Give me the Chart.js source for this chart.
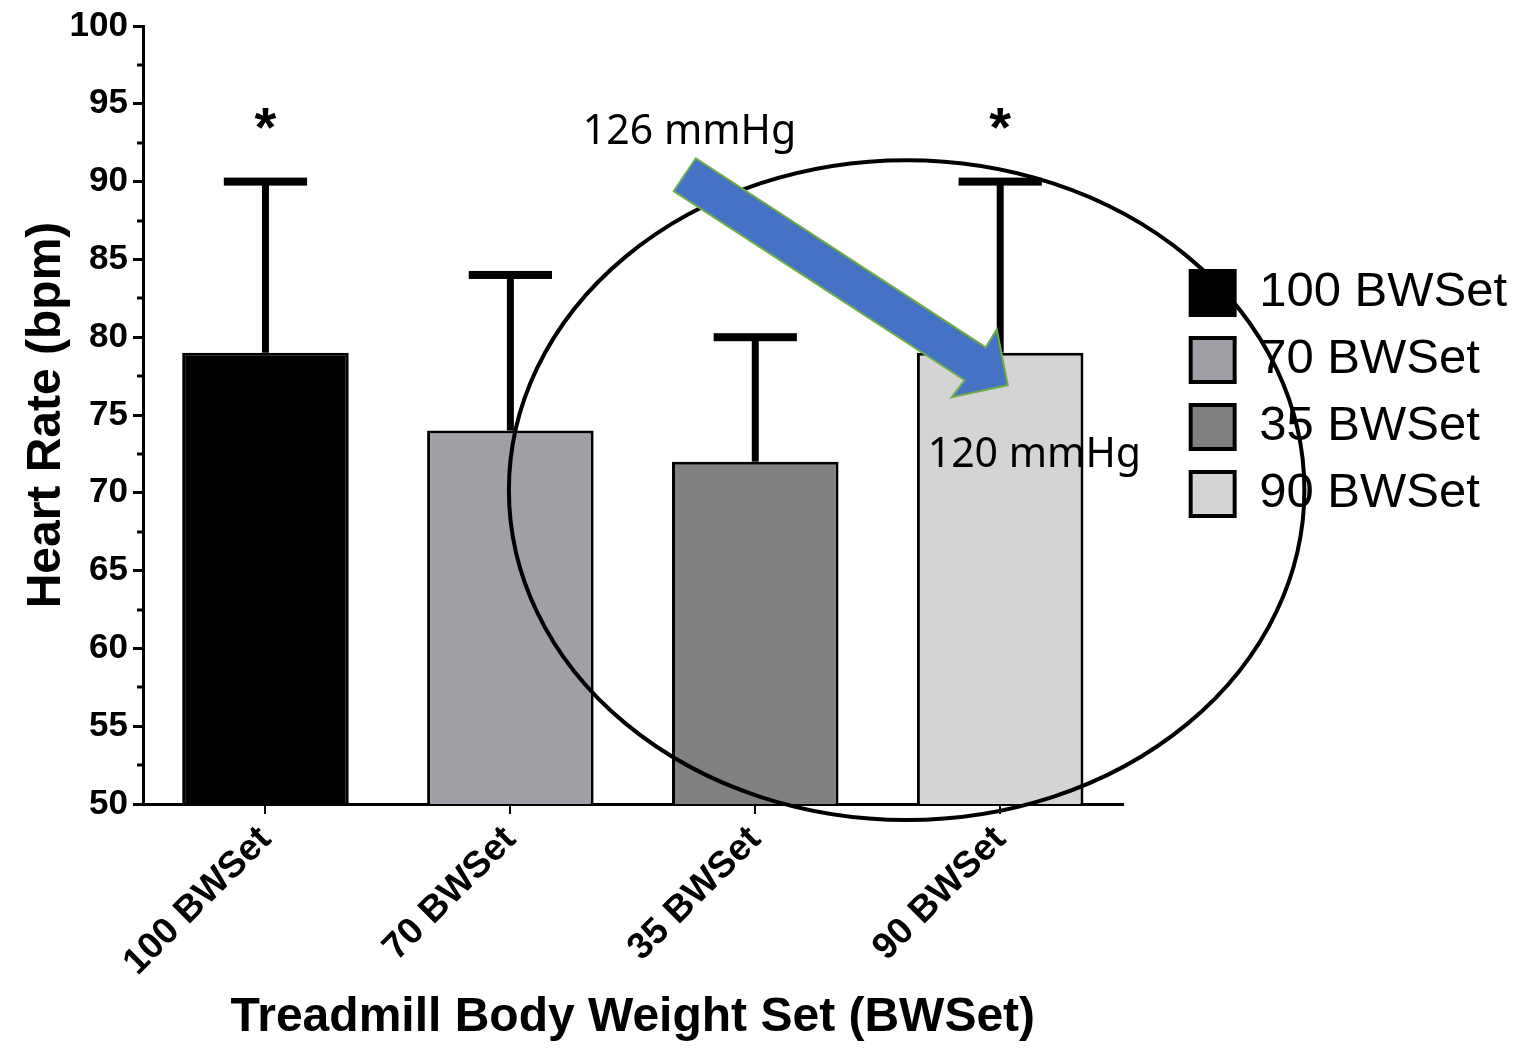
<!DOCTYPE html>
<html>
<head>
<meta charset="utf-8">
<style>
  html, body { margin: 0; padding: 0; background: #fff; }
  #wrap { width: 1517px; height: 1049px; }
</style>
</head>
<body>
<div id="wrap"><canvas id="c" width="1517" height="1049"></canvas></div>
<script src="https://cdn.jsdelivr.net/npm/chart.js@4.4.3/dist/chart.umd.min.js"></script>
<script>
const categories = ['100 BWSet', '70 BWSet', '35 BWSet', '90 BWSet'];
const heartRate = [79, 74, 72, 79];
const heartRateSD = [11, 10, 8, 11];
const significant = [true, false, false, true];
const yMin = 50;
const yMax = 100;
const yStep = 5;

const barColors = ['#000000', '#a09fa5', '#808080', '#d4d4d4'];
const AR = "'Liberation Sans', Arial, sans-serif";

// annotation overlay, placed in axis units (category index, bpm)
const ellipseCenter = [2.618, 70.17];
const ellipseRadius = [1.624, 21.2];
const arrowPoints = [
  [1.757, 91.50], [2.941, 79.35], [2.986, 80.50], [3.031, 76.92],
  [2.802, 76.15], [2.855, 77.24], [1.667, 89.39]
];
const notes = [
  { text: '126 mmHg', at: [1.296, 92.4] },
  { text: '120 mmHg', at: [2.704, 71.67] }
];

const errorBars = {
  id: 'errorBars',
  afterDatasetsDraw(chart) {
    const { ctx, scales: { y } } = chart;
    const meta = chart.getDatasetMeta(0);
    ctx.save();
    ctx.fillStyle = '#000';
    meta.data.forEach((bar, i) => {
      const top = y.getPixelForValue(heartRate[i] + heartRateSD[i]);
      const base = bar.y;
      const capW = bar.width * 0.5;
      ctx.fillRect(bar.x - 3.5, top, 7, base - top);
      ctx.fillRect(bar.x - capW / 2, top - 4, capW, 8);
      if (significant[i]) {
        ctx.font = 'bold 56px ' + AR;
        ctx.textAlign = 'center';
        ctx.textBaseline = 'alphabetic';
        const m = ctx.measureText('*');
        const h = m.actualBoundingBoxAscent + m.actualBoundingBoxDescent;
        // glyph centre ~63px above the cap
        const cy = top - 63;
        ctx.fillText('*', bar.x, cy + m.actualBoundingBoxAscent - h / 2);
      }
    });
    ctx.restore();
  }
};

const minorTicks = {
  id: 'minorTicks',
  afterDraw(chart) {
    const { ctx, scales: { y } } = chart;
    ctx.save();
    ctx.strokeStyle = '#000';
    ctx.lineWidth = 3;
    for (let v = yMin + yStep / 2; v < yMax; v += yStep) {
      const py = Math.round(y.getPixelForValue(v));
      ctx.beginPath();
      ctx.moveTo(y.right - 6, py);
      ctx.lineTo(y.right, py);
      ctx.stroke();
    }
    ctx.restore();
  }
};

const overlay = {
  id: 'overlay',
  afterDraw(chart) {
    const { ctx, scales: { x, y } } = chart;
    const px = (p) => [x.getPixelForValue(p[0]), y.getPixelForValue(p[1])];
    ctx.save();

    // ellipse
    const [cx, cy] = px(ellipseCenter);
    const rx = x.getPixelForValue(ellipseCenter[0] + ellipseRadius[0]) - cx;
    const ry = cy - y.getPixelForValue(ellipseCenter[1] + ellipseRadius[1]);
    ctx.beginPath();
    ctx.ellipse(cx, cy, rx, ry, 0, 0, Math.PI * 2);
    ctx.strokeStyle = '#000';
    ctx.lineWidth = 4;
    ctx.stroke();

    // arrow
    ctx.beginPath();
    arrowPoints.forEach((p, i) => {
      const [ax, ay] = px(p);
      if (i === 0) ctx.moveTo(ax, ay); else ctx.lineTo(ax, ay);
    });
    ctx.closePath();
    ctx.fillStyle = '#4472c4';
    ctx.fill();
    ctx.strokeStyle = '#70ad47';
    ctx.lineWidth = 2;
    ctx.stroke();

    // notes
    ctx.fillStyle = '#000';
    ctx.font = "41px 'Noto Sans', sans-serif";
    ctx.textAlign = 'left';
    ctx.textBaseline = 'alphabetic';
    notes.forEach(n => {
      const [tx, ty] = px(n.at);
      ctx.fillText(n.text, tx, ty);
    });
    ctx.restore();
  }
};

new Chart(document.getElementById('c').getContext('2d'), {
  type: 'bar',
  data: {
    labels: categories,
    datasets: [{
      label: 'Heart Rate',
      data: heartRate,
      backgroundColor: barColors,
      borderColor: '#000',
      borderWidth: 3,
      borderSkipped: false,
      categoryPercentage: 1,
      barPercentage: 0.68
    }]
  },
  options: {
    responsive: false,
    animation: false,
    layout: { padding: { top: 22, left: 0, right: 0, bottom: 0 } },
    plugins: {
      tooltip: { enabled: false },
      legend: {
        position: 'right',
        align: 'start',
        fullSize: false,
        title: { display: true, text: '', padding: { top: 210, bottom: 0 } },
        labels: {
          boxWidth: 44,
          boxHeight: 44,
          padding: 18,
          color: '#000',
          font: { family: AR, size: 49 },
          generateLabels: () => categories.map((c, i) => ({
            text: c,
            fillStyle: barColors[i],
            strokeStyle: '#000',
            lineWidth: 4,
            fontColor: '#000',
            hidden: false,
            index: i
          }))
        }
      }
    },
    scales: {
      x: {
        offset: true,
        grid: { display: true, drawOnChartArea: false, offset: false, tickLength: 10, color: '#000', lineWidth: 2 },
        border: { display: true, color: '#000', width: 3 },
        ticks: {
          color: '#000',
          font: { family: AR, size: 37, weight: 'bold' },
          minRotation: 45,
          maxRotation: 45,
          autoSkip: false,
          padding: 4
        },
        title: {
          display: true,
          text: 'Treadmill Body Weight Set (BWSet)',
          color: '#000',
          font: { family: AR, size: 48, weight: 'bold' },
          padding: { top: 0, bottom: 2 }
        },
        afterFit(s) { s.height = 245; }
      },
      y: {
        min: yMin,
        max: yMax,
        ticks: { stepSize: yStep, color: '#000', font: { family: AR, size: 35, weight: 'bold' }, padding: 5 },
        grid: { drawOnChartArea: false, tickLength: 10, color: '#000', lineWidth: 3 },
        border: { color: '#000', width: 3 },
        title: {
          display: true,
          text: 'Heart Rate (bpm)',
          color: '#000',
          font: { family: AR, size: 48, weight: 'bold' },
          padding: { top: 18, bottom: 0 }
        },
        afterFit(s) { s.width = 143; }
      },
      gap: {
        type: 'linear',
        position: 'right',
        display: false,
        afterFit(s) { s.width = 50; }
      }
    }
  },
  plugins: [errorBars, minorTicks, overlay]
});
</script>
</body>
</html>
